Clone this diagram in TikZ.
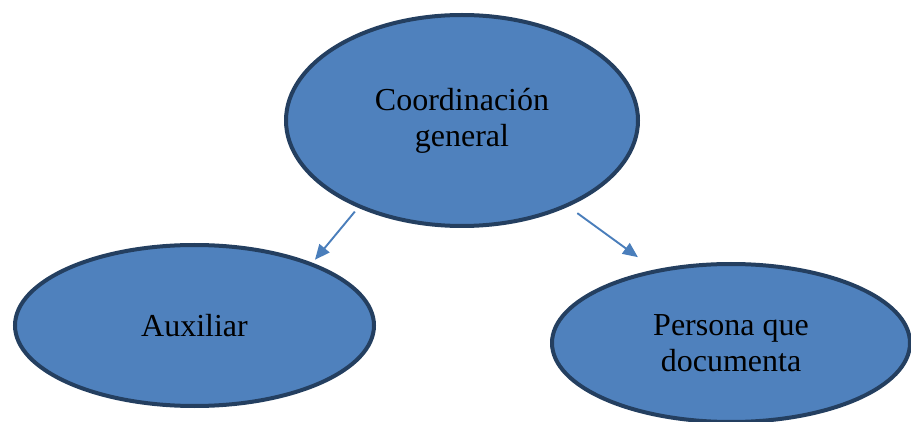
\documentclass[tikz,border=0pt]{standalone}
\usepackage{fontspec}
\setmainfont{Liberation Serif}
\usetikzlibrary{shapes.geometric,arrows.meta}
\definecolor{ovalfill}{HTML}{4F81BD}
\definecolor{ovalline}{HTML}{243F60}
\definecolor{arrowline}{HTML}{4A7EBB}
\begin{document}
\begin{tikzpicture}[x=1pt,y=-1pt,
    oval/.style={ellipse,draw=ovalline,fill=ovalfill,line width=4pt,inner sep=0pt,
      align=center,font=\fontsize{32}{36}\selectfont},
    link/.style={draw=arrowline,line width=1.9pt,-{Triangle[length=15pt,width=13pt]}}]
  \useasboundingbox (0,0) rectangle (911,422);
  \draw
    (462,120.5) node[oval,minimum width=352pt,minimum height=211pt] (coord){Coordinación\\general}
    (194.5,325.5) node[oval,minimum width=359pt,minimum height=161pt] (aux){Auxiliar}
    (731,343) node[oval,minimum width=358pt,minimum height=158pt] (doc){Persona que\\documenta};
  \begin{scope}[link]
    \draw[shorten <=5pt,shorten >=4pt] (coord.220) to (aux.28);
    \draw[shorten <=11pt,shorten >=21pt] (coord.321) to (doc.136.5);
  \end{scope}
\end{tikzpicture}
\end{document}
